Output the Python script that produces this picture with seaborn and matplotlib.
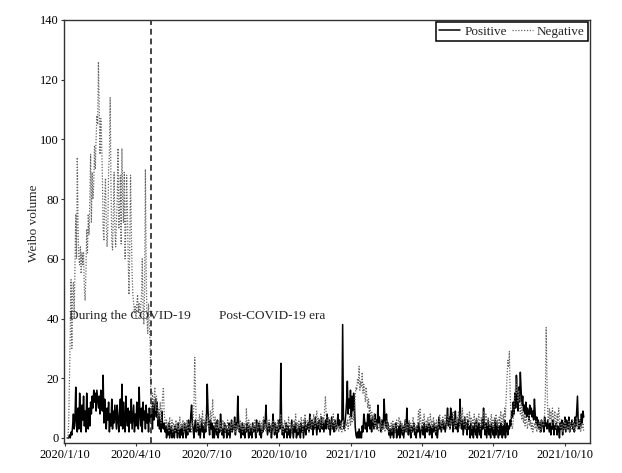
import pandas as pd
import numpy as np
import matplotlib
matplotlib.use('Agg')
import matplotlib.pyplot as plt
import seaborn as sns

# daily Weibo counts, starting 2020/1/13
START_DATE = "2020-01-13"
SPLIT_DATE = "2020-04-29"

positive = [
    0, 0, 0, 1, 0, 2, 1, 4, 8, 3,
    6, 17, 4, 2, 10, 3, 15, 8, 2, 11,
    6, 14, 4, 9, 2, 15, 7, 3, 10, 4,
    12, 8, 14, 10, 16, 12, 15, 9, 16, 13,
    10, 14, 8, 16, 12, 9, 21, 5, 13, 7,
    3, 10, 6, 12, 2, 8, 4, 13, 3, 9,
    5, 11, 7, 3, 11, 6, 2, 9, 13, 4,
    18, 3, 12, 6, 2, 14, 7, 4, 10, 2,
    9, 5, 13, 3, 7, 11, 2, 8, 4, 12,
    6, 3, 17, 8, 4, 10, 2, 12, 6, 9,
    3, 11, 5, 8, 2, 10, 6,
    5, 9, 3, 12, 6, 10, 13, 7, 12, 4,
    8, 3, 6, 2, 9, 4, 3, 5, 2, 4,
    0, 3, 1, 5, 0, 2, 4, 0, 3, 1,
    0, 4, 2, 3, 0, 5, 2, 0, 3, 1,
    4, 0, 2, 5, 3, 0, 4, 1, 6, 3,
    2, 8, 11, 5, 3, 0, 4, 6, 2, 3,
    5, 1, 4, 0, 3, 6, 2, 4, 0, 5,
    2, 7, 18, 9, 4, 1, 6, 3, 5, 0,
    4, 0, 3, 5, 1, 6, 0, 3, 2, 8,
    4, 1, 3, 0, 5, 2, 4, 0, 3, 1,
    5, 0, 3, 6, 2, 4, 3, 7, 1, 5,
    3, 14, 6, 2, 4, 0, 3, 5, 1, 4,
    0, 3, 2, 5, 3, 0, 4, 1, 3, 0,
    5, 2, 4, 3, 0, 6, 2, 3, 5, 1,
    4, 0, 3, 2, 6, 3, 5, 11, 4, 1,
    3, 5, 2, 4, 0, 3, 8, 4, 1, 5,
    3, 0, 4, 2, 6, 3, 25, 5, 1, 4,
    0, 3, 2, 5, 0, 4, 1, 3, 0, 2,
    6, 3, 0, 4, 2, 5, 0, 3, 1, 4,
    3, 0, 5, 2, 4, 0, 3, 6, 1, 4,
    3, 5, 2, 8, 4, 3, 6, 1, 5, 3,
    7, 4, 1, 5, 3, 6, 2, 4, 7, 3,
    5, 2, 4, 6, 3, 8, 5, 3, 6, 1,
    4, 7, 3, 5, 2, 6, 4, 3, 5, 8,
    4, 6, 3, 5, 6, 38, 6, 3, 5, 8,
    12, 19, 8, 13, 10, 16, 7, 14, 9, 15,
    12, 4, 1, 0, 2, 0, 3, 0, 2, 0,
    4, 2, 8, 6, 3, 5, 2, 8, 4, 8,
    3, 6, 2, 7, 5, 3, 8, 4, 6, 3,
    11, 5, 7, 4, 2, 6, 3, 5, 13, 6,
    4, 8, 3, 5, 1, 3, 0, 3, 1, 4,
    0, 3, 2, 5, 0, 3, 1, 4, 0, 5,
    3, 1, 4, 0, 3, 6, 2, 10, 4, 1,
    5, 3, 0, 4, 2, 3, 5, 1, 3, 0,
    4, 2, 5, 3, 0, 2, 4, 3, 1, 5,
    0, 3, 4, 2, 3, 5, 1, 4, 3, 0,
    4, 2, 5, 3, 1, 4, 0, 3, 7, 3,
    5, 2, 4, 6, 3, 5, 2, 4, 6, 10,
    4, 7, 3, 10, 5, 8, 2, 6, 4, 9,
    3, 5, 2, 6, 4, 13, 5, 3, 6, 1,
    4, 7, 3, 5, 1, 6, 3, 4, 0, 5,
    1, 4, 0, 3, 5, 1, 6, 0, 3, 5,
    1, 4, 0, 6, 3, 10, 4, 1, 5, 0,
    3, 6, 1, 4, 0, 5, 3, 1, 4, 0,
    6, 1, 5, 3, 0, 4, 1, 5, 3, 0,
    4, 1, 6, 0, 3, 5, 1, 4, 3, 6,
    4, 9, 7, 12, 8, 15, 10, 21, 13, 9,
    17, 12, 22, 16, 11, 14, 9, 11, 8, 12,
    7, 10, 9, 6, 11, 8, 10, 7, 9, 6,
    13, 8, 5, 7, 4, 6, 3, 5, 2, 6,
    4, 5, 2, 7, 4, 5, 3, 6, 4, 2,
    5, 1, 4, 3, 6, 1, 4, 3, 5, 1,
    4, 3, 0, 5, 3, 6, 1, 5, 3, 7,
    2, 6, 4, 3, 7, 2, 5, 4, 6, 3,
    5, 2, 7, 4, 9, 14, 5, 3, 6, 4,
    8, 5, 9, 7,
]

negative = [
    0, 0, 5, 20, 35, 53, 30, 48, 52, 40,
    58, 75, 60, 94, 70, 60, 58, 64, 55, 62,
    58, 62, 50, 46, 55, 70, 62, 75, 68, 80,
    95, 72, 89, 80, 85, 98, 90, 100, 108, 105,
    126, 110, 95, 107, 100, 88, 70, 66, 80, 87,
    72, 64, 70, 90, 95, 114, 85, 66, 63, 75,
    89, 70, 64, 72, 80, 97, 70, 75, 88, 65,
    97, 80, 72, 89, 60, 70, 88, 76, 60, 48,
    64, 88, 70, 55, 48, 45, 42, 44, 40, 45,
    48, 42, 45, 40, 44, 48, 60, 44, 38, 50,
    90, 55, 40, 35, 45, 38, 32,
    12, 8, 15, 10, 13, 17, 9, 14, 11, 6,
    10, 7, 12, 5, 9, 14, 17, 8, 6, 4,
    6, 3, 5, 2, 7, 4, 3, 6, 2, 5,
    4, 2, 6, 3, 5, 2, 4, 7, 3, 5,
    3, 6, 2, 5, 4, 3, 6, 2, 5, 4,
    3, 5, 2, 4, 6, 11, 27, 15, 5, 3,
    6, 4, 8, 3, 7, 5, 9, 4, 6, 3,
    8, 5, 4, 7, 3, 6, 9, 5, 8, 13,
    6, 4, 7, 3, 5, 2, 6, 4, 3, 5,
    2, 4, 6, 3, 5, 2, 4, 3, 6, 2,
    4, 3, 5, 2, 6, 4, 3, 5, 2, 4,
    3, 5, 2, 4, 6, 3, 5, 2, 4, 3,
    5, 2, 10, 4, 3, 6, 2, 5, 3, 4,
    2, 5, 3, 6, 4, 2, 5, 3, 4, 6,
    3, 5, 2, 4, 7, 3, 5, 2, 6, 4,
    3, 6, 4, 2, 5, 3, 6, 4, 2, 5,
    4, 2, 6, 3, 5, 4, 8, 3, 5, 2,
    4, 6, 3, 5, 2, 4, 7, 3, 5, 4,
    2, 5, 3, 6, 4, 8, 3, 5, 2, 6,
    4, 3, 7, 5, 2, 6, 4, 8, 3, 5,
    6, 4, 2, 5, 7, 3, 6, 4, 8, 5,
    3, 6, 9, 4, 7, 5, 3, 8, 6, 4,
    7, 5, 10, 14, 8, 6, 4, 7, 3, 5,
    6, 3, 5, 8, 4, 6, 2, 5, 3, 4,
    2, 4, 3, 5, 2, 4, 6, 3, 2, 5,
    4, 6, 3, 5, 8, 4, 7, 5, 9, 6,
    10, 14, 17, 16, 20, 18, 24, 16, 19, 17,
    22, 15, 18, 16, 12, 17, 14, 10, 13, 8,
    11, 6, 9, 7, 5, 8, 4, 6, 3, 5,
    4, 2, 5, 3, 6, 2, 4, 3, 5, 2,
    4, 6, 3, 5, 2, 4, 3, 5, 2, 6,
    3, 5, 2, 4, 6, 3, 5, 7, 4, 6,
    3, 5, 2, 4, 3, 6, 2, 5, 3, 4,
    6, 3, 5, 2, 4, 7, 3, 5, 2, 4,
    3, 6, 9, 4, 10, 5, 3, 6, 4, 8,
    5, 3, 6, 4, 7, 3, 5, 8, 4, 6,
    3, 7, 4, 5, 2, 6, 4, 3, 5, 8,
    4, 6, 3, 7, 5, 4, 8, 5, 3, 6,
    8, 5, 3, 6, 4, 7, 9, 5, 3, 6,
    4, 7, 5, 9, 6, 3, 8, 5, 10, 6,
    4, 7, 5, 3, 8, 6, 4, 9, 5, 7,
    3, 6, 4, 8, 5, 3, 7, 4, 6, 8,
    5, 3, 7, 4, 6, 9, 5, 3, 8, 6,
    4, 7, 5, 3, 6, 8, 4, 6, 3, 7,
    5, 8, 4, 6, 3, 7, 5, 9, 6, 4,
    8, 5, 10, 7, 14, 20, 26, 24, 29, 15,
    8, 4, 3, 6, 10, 14, 18, 15, 20, 12,
    16, 10, 8, 12, 6, 9, 5, 8, 4, 7,
    6, 3, 5, 8, 4, 6, 3, 5, 2, 4,
    5, 3, 6, 2, 4, 3, 5, 2, 4, 6,
    3, 5, 4, 8, 15, 37, 20, 8, 5, 10,
    6, 9, 4, 10, 7, 5, 9, 6, 3, 8,
    5, 10, 7, 4, 3, 5, 2, 4, 6, 3,
    5, 2, 4, 3, 6, 2, 5, 3, 4, 6,
    3, 5, 2, 4, 7, 3, 5, 4, 6, 2,
    4, 3, 5, 2,
]

tick_dates = ["2020-01-10", "2020-04-10", "2020-07-10", "2020-10-10",
              "2021-01-10", "2021-04-10", "2021-07-10", "2021-10-10"]
tick_labels = ["2020/1/10", "2020/4/10", "2020/7/10", "2020/10/10",
               "2021/1/10", "2021/4/10", "2021/7/10", "2021/10/10"]

pos_df = pd.DataFrame({"date": pd.date_range(START_DATE, periods=len(positive), freq="D"),
                       "volume": positive})
neg_df = pd.DataFrame({"date": pd.date_range(START_DATE, periods=len(negative), freq="D"),
                       "volume": negative})

sns.set_theme(style="ticks")
plt.rcParams['font.family'] = ['Liberation Serif', 'DejaVu Serif']
plt.rcParams['axes.edgecolor'] = '#333333'
plt.rcParams['axes.linewidth'] = 1.0

fig, ax = plt.subplots(figsize=(6.22, 4.73), dpi=100)
fig.subplots_adjust(left=64/622, right=590/622, top=1-20/473, bottom=1-443/473)

sns.lineplot(data=pos_df, x="date", y="volume", ax=ax, color="black",
             linewidth=1.1, label="Positive")
sns.lineplot(data=neg_df, x="date", y="volume", ax=ax, color="#666666",
             linewidth=0.9, linestyle=(0, (1, 1.3)), label="Negative")

ax.axvline(pd.Timestamp(SPLIT_DATE), color="#444444", linewidth=1.4,
           linestyle=(0, (3, 2)))

ax.text(pd.Timestamp("2020-01-16"), 40.8, "During the COVID-19",
        fontsize=9.7, va="center", ha="left")
ax.text(pd.Timestamp("2020-07-25"), 40.8, "Post-COVID-19 era",
        fontsize=9.5, va="center", ha="left")

ax.set_xlim(pd.Timestamp("2020-01-09"), pd.Timestamp("2021-11-11"))
ax.set_ylim(-1.7, 140)
ax.set_yticks(range(0, 141, 20))
ax.set_xticks([pd.Timestamp(d) for d in tick_dates])
ax.set_xticklabels(tick_labels)
ax.tick_params(axis='both', labelsize=9, width=0.8, colors='#333333',
               labelcolor='black')
ax.tick_params(axis='y', length=2.5, pad=1)
ax.tick_params(axis='x', length=2.5, pad=2)
ax.set_xlabel("")
ax.set_ylabel("Weibo volume", fontsize=9.5)
ax.yaxis.set_label_coords(-0.046, 0.52)

leg = ax.legend(loc="upper right", ncol=2, frameon=True, fancybox=False,
                edgecolor="black", fontsize=9.5, handlelength=1.6,
                handletextpad=0.3, columnspacing=0.4, borderpad=0.25,
                borderaxespad=0.15)
leg.get_frame().set_linewidth(1.1)
leg.get_frame().set_alpha(1)

plt.savefig("out.png", dpi=100)
